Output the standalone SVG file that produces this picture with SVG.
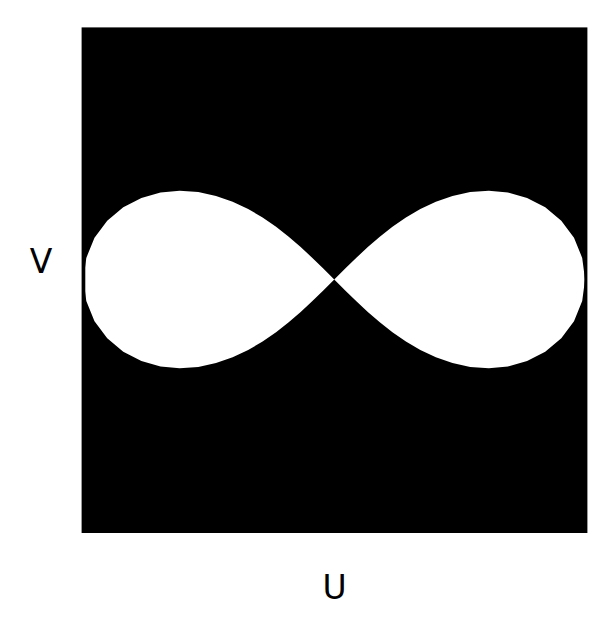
<svg xmlns="http://www.w3.org/2000/svg" width="615" height="636" viewBox="0 0 615 636">
<style>
.lbl{font-family:"DejaVu Sans","Liberation Sans",sans-serif;font-size:33px;fill:#000;text-anchor:middle}
</style>
<defs>
<clipPath id="plotclip"><rect x="85.3" y="0" width="499" height="636"/></clipPath>
</defs>
<rect width="615" height="636" fill="#fff"/>
<g id="plot">
<rect x="81.6" y="27.4" width="505.8" height="505.6" fill="#000"/>
<path clip-path="url(#plotclip)" fill="#fff" d="M585.05,279.5 L582.21,257.89 L574.01,237.87 L561.29,220.74 L545.24,207.33 L527.11,198.00 L508.01,192.62 L488.84,190.83 L470.20,192.11 L452.48,195.90 L435.84,201.67 L420.34,208.98 L405.91,217.44 L392.44,226.76 L379.80,236.69 L367.83,247.06 L356.36,257.73 L345.22,268.57 L334.25,279.5 L323.28,290.43 L312.14,301.27 L300.67,311.94 L288.70,322.31 L276.06,332.24 L262.59,341.56 L248.16,350.02 L232.66,357.33 L216.02,363.10 L198.30,366.89 L179.66,368.17 L160.49,366.38 L141.39,361.00 L123.26,351.67 L107.21,338.26 L94.49,321.13 L86.29,301.11 L83.45,279.5 L86.29,257.89 L94.49,237.87 L107.21,220.74 L123.26,207.33 L141.39,198.00 L160.49,192.62 L179.66,190.83 L198.30,192.11 L216.02,195.90 L232.66,201.67 L248.16,208.98 L262.59,217.44 L276.06,226.76 L288.70,236.69 L300.67,247.06 L312.14,257.73 L323.28,268.57 L334.25,279.5 L345.22,290.43 L356.36,301.27 L367.83,311.94 L379.80,322.31 L392.44,332.24 L405.91,341.56 L420.34,350.02 L435.84,357.33 L452.48,363.10 L470.20,366.89 L488.84,368.17 L508.01,366.38 L527.11,361.00 L545.24,351.67 L561.29,338.26 L574.01,321.13 L582.21,301.11 Z"/>
</g>
<g id="axis-labels">
<text id="label-v" class="lbl" x="41" y="273.3">V</text>
<text id="label-u" class="lbl" x="334.7" y="598.6">U</text>
</g>
</svg>
